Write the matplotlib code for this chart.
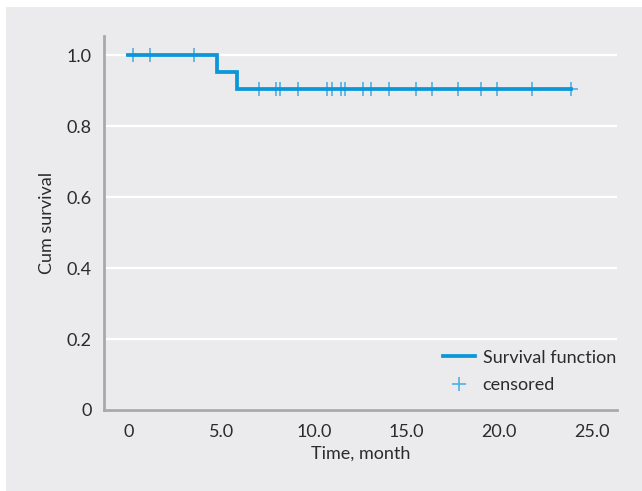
import numpy as np
import matplotlib
matplotlib.use("Agg")
import matplotlib.pyplot as plt
from matplotlib.patches import Rectangle
from matplotlib.lines import Line2D

# Data
event_times = [0.0, 4.8, 5.88, 23.88]
survival = [1.0, 0.952, 0.905, 0.905]
censored_times = [0.26, 1.17, 3.53, 7.03, 7.95, 8.20, 9.16, 10.73, 11.01, 11.46,
                  11.70, 12.65, 13.08, 14.05, 15.51, 16.38, 17.80, 19.02, 19.89,
                  21.79, 23.88]
x_ticks = [0, 5, 10, 15, 20, 25]
x_labels = ["0", "5.0", "10.0", "15.0", "20.0", "25.0"]
y_ticks = [0, 0.2, 0.4, 0.6, 0.8, 1.0]
y_labels = ["0", "0.2", "0.4", "0.6", "0.8", "1.0"]

plt.rcParams['font.family'] = ['Lato', 'DejaVu Sans']
text_color = '#2b2b2b'
bg = '#ebebed'
line_color = '#0a96d8'
mark_color = '#4fb0e3'
fs = 13

fig = plt.figure(figsize=(6.42, 4.91), dpi=100, facecolor='white')
fig.patches.append(Rectangle((6/642, 0), 1 - 6/642, 1 - 7/491, transform=fig.transFigure,
                             facecolor=bg, edgecolor='none', zorder=-10))
ax = fig.add_axes([104/642, 1 - 410/491, (617 - 104)/642, (410 - 36)/491])
ax.set_facecolor(bg)

ax.step(event_times, survival, where='post', color=line_color, lw=2.7, zorder=4,
        solid_joinstyle='miter')
idx = np.searchsorted(event_times, censored_times, side='right') - 1
cens_y = np.array(survival)[idx]
ax.plot(censored_times, cens_y, linestyle='none', marker='+', markersize=9.5, mew=1.2,
        color=mark_color, zorder=3)

ax.set_xlim(-1.32, 26.37)
ax.set_ylim(0, 1.054)
ax.set_xticks(x_ticks)
ax.set_xticklabels(x_labels)
ax.set_yticks(y_ticks)
ax.set_yticklabels(y_labels)
ax.tick_params(axis='y', length=0, labelsize=fs, colors=text_color, pad=9)
ax.tick_params(axis='x', length=0, labelsize=fs, colors=text_color, pad=10)
ax.grid(axis='y', color='white', lw=1.6, zorder=0)
ax.set_axisbelow(True)
for s in ['top', 'right']:
    ax.spines[s].set_visible(False)
for s in ['left', 'bottom']:
    ax.spines[s].set_color('#a9a9a9')
    ax.spines[s].set_linewidth(2)

ax.set_xlabel('Time, month', fontsize=fs, color=text_color, labelpad=4)
ax.set_ylabel('Cum survival', fontsize=fs, color=text_color, labelpad=8)

handles = [Line2D([], [], color=line_color, lw=2.7),
           Line2D([], [], linestyle='none', marker='+', markersize=9.5, mew=1.2, color=mark_color)]
leg = ax.legend(handles, ['Survival function', 'censored'], loc='lower right',
                frameon=False, fontsize=fs, handlelength=1.8, handletextpad=0.4,
                labelspacing=0.65, bbox_to_anchor=(1.012, 0.025), borderaxespad=0.0)
for t in leg.get_texts():
    t.set_color(text_color)

fig.savefig('out.png', dpi=100, facecolor='white')
